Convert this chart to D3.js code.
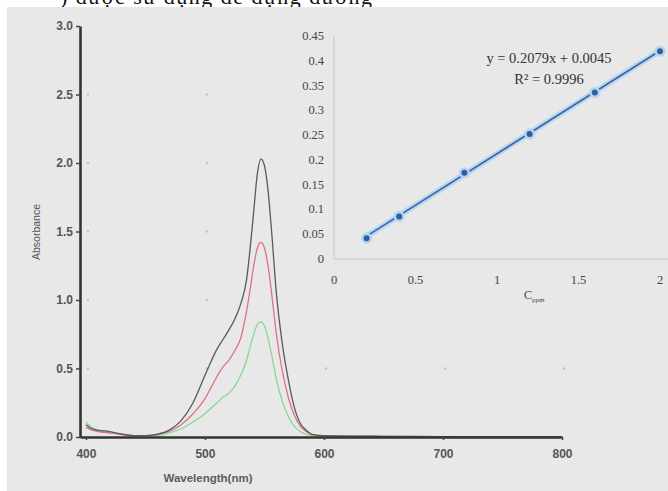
<!DOCTYPE html>
<html>
<head>
<meta charset="utf-8">
<script src="https://cdn.jsdelivr.net/npm/d3@7"></script>
<style>
  body { margin: 0; background: #fff; }
  svg { display: block; }
</style>
</head>
<body>
<svg id="chart"></svg>
<script>
// Spectra (main chart)
const wavelengths = [400,405,410,420,430,440,450,460,470,480,490,500,505,510,515,520,525,530,535,538,541,544,547,550,553,556,560,565,570,575,580,585,590,600,650,700,800];
const absBlack = [0.09,0.06,0.05,0.04,0.02,0.01,0.01,0.02,0.05,0.12,0.25,0.45,0.55,0.64,0.71,0.78,0.86,0.97,1.15,1.38,1.65,1.92,2.03,1.98,1.80,1.50,1.05,0.68,0.42,0.22,0.10,0.05,0.02,0.01,0.005,0.003,0];
const absRed   = [0.07,0.05,0.04,0.03,0.02,0.01,0.01,0.02,0.04,0.09,0.17,0.28,0.36,0.44,0.51,0.56,0.63,0.72,0.92,1.08,1.25,1.38,1.42,1.38,1.25,1.05,0.75,0.48,0.29,0.16,0.08,0.04,0.02,0.01,0.005,0.002,0];
const absGreen = [0.11,0.07,0.05,0.03,0.02,0.01,0.01,0.01,0.03,0.06,0.11,0.17,0.21,0.25,0.29,0.32,0.37,0.45,0.56,0.66,0.75,0.82,0.84,0.81,0.72,0.60,0.42,0.26,0.15,0.08,0.04,0.02,0.01,0.005,0.002,0,0];
const xTicks = [400, 500, 600, 700, 800];
const yTicks = [0, 0.5, 1.0, 1.5, 2.0, 2.5, 3.0];

// Calibration (inset)
const concPpm = [0.2, 0.4, 0.8, 1.2, 1.6, 2.0];
const calAbs = [0.042, 0.086, 0.174, 0.252, 0.336, 0.419];
const slope = 0.2079, intercept = 0.0045;
const insetXTicks = [0, 0.5, 1, 1.5, 2];
const insetYTicks = [0, 0.05, 0.1, 0.15, 0.2, 0.25, 0.3, 0.35, 0.4, 0.45];

const W = 668, H = 491;
const bg = "#e8e8e8";
const sans = "'Liberation Sans', Arial, sans-serif";
const serif = "'Liberation Serif', 'Times New Roman', serif";

const svg = d3.select("#chart").attr("width", W).attr("height", H);

// caption line above the figure (cropped in the source)
svg.append("text")
  .attr("x", 60).attr("y", 4)
  .attr("font-family", serif)
  .attr("font-size", 22)
  .attr("letter-spacing", 1.5)
  .attr("fill", "#111")
  .text(") được sử dụng để dựng đường");

svg.append("rect")
  .attr("x", 7).attr("y", 7)
  .attr("width", W - 7).attr("height", H - 7)
  .attr("fill", bg);

// ---- main chart ----
const x = d3.scaleLinear().domain([395, 800]).range([80, 562]);
const y = d3.scaleLinear().domain([0, 3]).range([437, 26]);

// faint grid dots
xTicks.forEach(tx => {
  yTicks.slice(1, -1).forEach(ty => {
    svg.append("circle")
      .attr("cx", x(tx) + 2).attr("cy", y(ty))
      .attr("r", 1.2).attr("fill", "#c4c4c4");
  });
});

const line = d3.line()
  .x(d => x(d[0]))
  .y(d => y(d[1]))
  .curve(d3.curveMonotoneX);

const series = [
  { values: absGreen, color: "#86d98f" },
  { values: absRed, color: "#e07082" },
  { values: absBlack, color: "#5a5a5a" }
];

series.forEach(s => {
  svg.append("path")
    .datum(wavelengths.map((w, i) => [w, s.values[i]]))
    .attr("fill", "none")
    .attr("stroke", s.color)
    .attr("stroke-width", 1.3)
    .attr("d", line);
});

// axes
const xAxis = svg.append("g")
  .attr("transform", `translate(0,${y(0)})`)
  .call(d3.axisBottom(x).tickValues(xTicks).tickSize(3).tickPadding(9).tickSizeOuter(0));
const yAxis = svg.append("g")
  .attr("transform", `translate(${x(395)},0)`)
  .call(d3.axisLeft(y).tickValues(yTicks).tickSize(4).tickPadding(3).tickFormat(d3.format(".1f")).tickSizeOuter(0));

[xAxis, yAxis].forEach(g => {
  g.select(".domain").attr("stroke", "#333").attr("stroke-width", 2.6);
  g.selectAll(".tick line").attr("stroke", "#444").attr("stroke-width", 1.5);
  g.selectAll(".tick text")
    .attr("font-family", sans)
    .attr("font-size", 12)
    .attr("font-weight", "bold")
    .attr("fill", "#555");
});

svg.append("text")
  .attr("x", 208).attr("y", 482)
  .attr("text-anchor", "middle")
  .attr("font-family", sans)
  .attr("font-size", 11.5)
  .attr("font-weight", "bold")
  .attr("fill", "#5c5c5c")
  .text("Wavelength(nm)");

svg.append("text")
  .attr("transform", "translate(40,232) rotate(-90)")
  .attr("text-anchor", "middle")
  .attr("font-family", sans)
  .attr("font-size", 10.5)
  .attr("fill", "#555")
  .text("Absorbance");

// ---- inset calibration chart ----
svg.append("rect")
  .attr("x", 296).attr("y", 30)
  .attr("width", W - 296).attr("height", 276)
  .attr("fill", bg);

const ix = d3.scaleLinear().domain([0, 2]).range([334, 660]);
const iy = d3.scaleLinear().domain([0, 0.45]).range([259, 36]);

svg.append("line")
  .attr("x1", ix(0)).attr("x2", ix(0))
  .attr("y1", 36).attr("y2", iy(0))
  .attr("stroke", "#d2d2d2").attr("stroke-width", 1.5);
svg.append("line")
  .attr("x1", ix(0)).attr("x2", W)
  .attr("y1", iy(0)).attr("y2", iy(0))
  .attr("stroke", "#d2d2d2").attr("stroke-width", 1.5);

svg.selectAll(".iy-label")
  .data(insetYTicks)
  .enter().append("text")
  .attr("class", "iy-label")
  .attr("x", 324)
  .attr("y", d => iy(d) + 4)
  .attr("text-anchor", "end")
  .attr("font-family", serif)
  .attr("font-size", 12.5)
  .attr("fill", "#444")
  .text(d => String(d));

svg.selectAll(".ix-label")
  .data(insetXTicks)
  .enter().append("text")
  .attr("class", "ix-label")
  .attr("x", d => ix(d))
  .attr("y", 284)
  .attr("text-anchor", "middle")
  .attr("font-family", serif)
  .attr("font-size", 12.5)
  .attr("fill", "#444")
  .text(d => String(d));

const cLabel = svg.append("text")
  .attr("x", 524).attr("y", 299)
  .attr("font-family", serif)
  .attr("font-size", 12)
  .attr("fill", "#444");
cLabel.append("tspan").text("C");
cLabel.append("tspan").attr("dy", 3).attr("font-size", 7).text("ppm");

// trendline
const trend = [concPpm[0], concPpm[concPpm.length - 1]].map(c => [c, slope * c + intercept]);
const iline = d3.line().x(d => ix(d[0])).y(d => iy(d[1]));
svg.append("path").datum(trend)
  .attr("fill", "none").attr("stroke", "#b9d7f3").attr("stroke-width", 6)
  .attr("stroke-linecap", "round").attr("d", iline);
svg.append("path").datum(trend)
  .attr("fill", "none").attr("stroke", "#3a64a0").attr("stroke-width", 1.6)
  .attr("d", iline);

const pts = concPpm.map((c, i) => [c, calAbs[i]]);
svg.selectAll(".halo").data(pts).enter().append("circle")
  .attr("cx", d => ix(d[0])).attr("cy", d => iy(d[1]))
  .attr("r", 5.5).attr("fill", "#b3d4f2");
svg.selectAll(".pt").data(pts).enter().append("circle")
  .attr("cx", d => ix(d[0])).attr("cy", d => iy(d[1]))
  .attr("r", 3).attr("fill", "#2f5e98");

svg.append("text")
  .attr("x", 549).attr("y", 63)
  .attr("text-anchor", "middle")
  .attr("font-family", serif)
  .attr("font-size", 14.5)
  .attr("fill", "#333")
  .text("y = 0.2079x + 0.0045");
svg.append("text")
  .attr("x", 549).attr("y", 84)
  .attr("text-anchor", "middle")
  .attr("font-family", serif)
  .attr("font-size", 14.5)
  .attr("fill", "#333")
  .text("R² = 0.9996");
</script>
</body>
</html>
